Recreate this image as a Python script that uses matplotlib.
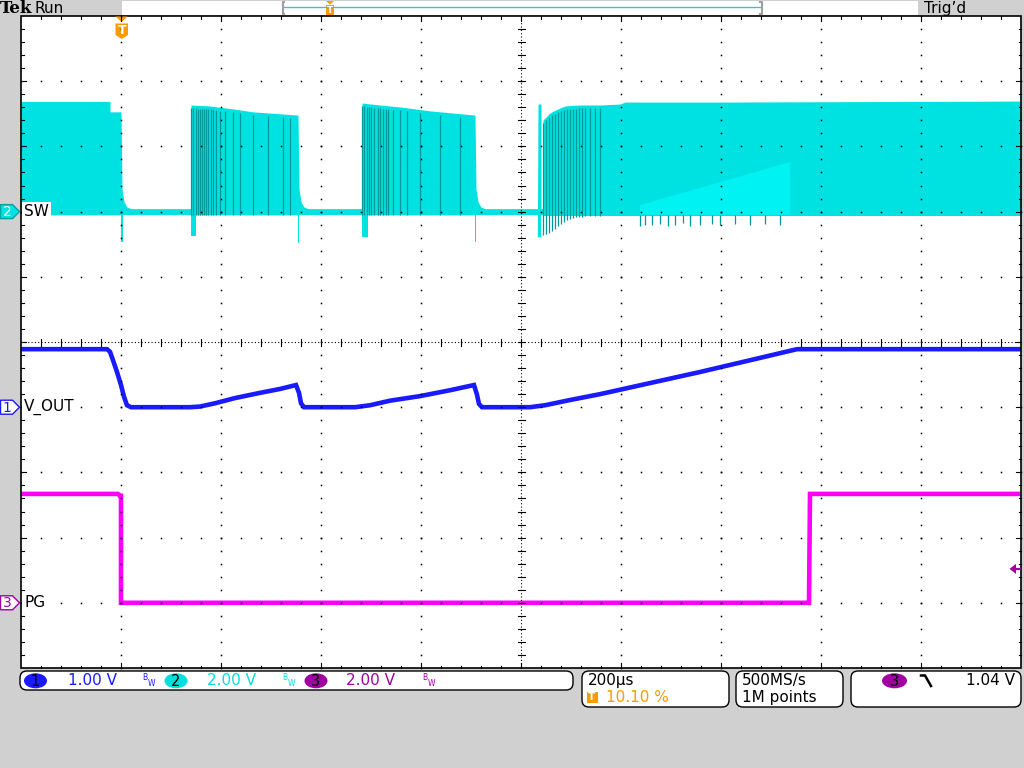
import numpy as np
import matplotlib
matplotlib.use("Agg")
import matplotlib.pyplot as plt
from matplotlib.patches import Polygon, Rectangle, FancyBboxPatch, Ellipse

# ---------------- data ----------------
time_per_div_label = "200µs"
trigger_pos_label = "10.10 %"
sample_rate_label = "500MS/s"
record_label = "1M points"
t_start_us, t_end_us = -200, 1800

ch1_vdiv, ch2_vdiv, ch3_vdiv = 1.0, 2.0, 2.0
ch1_off, ch2_off, ch3_off = -1.0, 2.0, -4.0
ch_labels = ["1.00 V", "2.00 V", "2.00 V"]
trigger_level_v = 1.04
trigger_level_label = "1.04 V"

# SW (ch2) envelope: time (µs), top (V), bottom (V)
sw_t = [-200, -22, -22, 0, 2, 6, 12, 20, 139, 140, 178, 224, 264, 354, 356, 360, 366, 374,
        481, 482, 518, 558, 618, 708, 710, 714, 720, 728, 833, 834, 840, 840, 843, 844,
        850, 856, 862, 870, 878, 888, 918, 958, 998, 1008, 1200, 1800]
sw_top = [3.38, 3.38, 3.06, 3.06, 0.70, 0.30, 0.14, 0.09, 0.09, 3.27, 3.24, 3.15, 3.06, 2.96,
          0.70, 0.30, 0.14, 0.09, 0.09, 3.33, 3.27, 3.21, 3.09, 2.96, 0.70, 0.30, 0.14, 0.09,
          0.09, 3.30, 3.30, 0.09, 0.09, 2.81, 2.90, 3.00, 3.06, 3.12, 3.18, 3.24, 3.27, 3.27,
          3.30, 3.36, 3.36, 3.39]
sw_bot = [-0.10, -0.10, -0.10, -0.10, -0.09, -0.09, -0.09, -0.09, -0.09, -0.10, -0.10, -0.10,
          -0.10, -0.10, -0.09, -0.09, -0.09, -0.09, -0.09, -0.10, -0.10, -0.10, -0.10, -0.10,
          -0.09, -0.09, -0.09, -0.09, -0.09, -0.10, -0.10, -0.09, -0.09, -0.12, -0.12, -0.12,
          -0.12, -0.12, -0.12, -0.12, -0.12, -0.12, -0.12, -0.12, -0.12, -0.12]
# negative ringing at switching edges: start, end (µs), minimum (V)
sw_spike_t0 = [0, 140, 354, 482, 708, 834]
sw_spike_t1 = [4, 150, 356, 494, 710, 840]
sw_spike_v = [-0.92, -0.75, -0.95, -0.78, -0.93, -0.78]
# individual darker pulses
sw_pulse_t = [140, 143, 149, 153, 158, 162, 166, 170, 174, 179, 184, 190, 198, 208, 224, 238,
              264, 294, 324, 338,
              482, 485, 491, 496, 500, 505, 513, 518, 523, 530, 534, 544, 558, 572, 598, 638, 678,
              844, 850, 856, 862, 868, 874, 880, 886, 892, 898, 904, 910, 916, 922, 928, 938, 948, 958]
sw_pulse_low = [-0.10] * 37 + [-0.72, -0.69, -0.66, -0.60, -0.53, -0.44, -0.38, -0.32, -0.26,
                               -0.23, -0.20, -0.18, -0.17, -0.16, -0.15, -0.14, -0.13, -0.13]
# undershoot spikes below the band during the soft-start region
sw_low_t = [1038, 1048, 1062, 1078, 1094, 1108, 1124, 1138, 1158, 1182, 1198, 1228, 1258, 1288, 1318]
sw_low_v = [-0.45, -0.40, -0.42, -0.38, -0.44, -0.41, -0.36, -0.43, -0.40, -0.38, -0.42, -0.39,
            -0.41, -0.37, -0.40]
# brighter overlap wedge
sw_wedge_t = [1038, 1338, 1338, 1038]
sw_wedge_v = [0.20, 1.52, -0.10, -0.10]

# V_OUT (ch1)
vout_t = [-200, -28, -22, -16, -8, 0, 6, 12, 20, 138, 158, 188, 228, 278, 318, 350, 356, 360,
          366, 468, 498, 538, 598, 658, 706, 712, 716, 722, 818, 848, 898, 958, 1058, 1158,
          1258, 1352, 1800]
vout_v = [0.89, 0.89, 0.85, 0.72, 0.54, 0.34, 0.16, 0.03, 0.0, 0.0, 0.01, 0.06, 0.14, 0.22,
          0.28, 0.34, 0.22, 0.06, 0.0, 0.0, 0.03, 0.10, 0.17, 0.26, 0.34, 0.19, 0.05, 0.0, 0.0,
          0.03, 0.11, 0.20, 0.37, 0.54, 0.72, 0.89, 0.89]

# PG (ch3)
pg_t = [-200, -6, -2, 0, 0, 1376, 1378, 1800]
pg_v = [3.34, 3.34, 3.28, 3.28, 0.0, 0.0, 3.34, 3.34]

# ---------------- style ----------------
BG = "#d0d0d0"
C1 = "#1a1aff"
C2 = "#00e2e2"
C2_TXT = "#00dede"
C2_DARK = "#009a9a"
C2_LIGHT = "#00f2f2"
C3 = "#ff00ff"
C3_TXT = "#a000a0"
ORANGE = "#ff9900"

GX0, GX1, GY0, GY1 = 21, 1021, 16, 668
DX = (GX1 - GX0) / 10
DY = (GY1 - GY0) / 10
CX, CY = GX0 + 5 * DX, GY0 + 5 * DY


def div_to_px(d):
    return CY - d * DY


fig = plt.figure(figsize=(10.24, 7.68), dpi=100, facecolor=BG)
ax = fig.add_axes([GX0 / 1024, (768 - GY1) / 768, (GX1 - GX0) / 1024, (GY1 - GY0) / 768])
ax.set_xlim(t_start_us, t_end_us)
ax.set_ylim(-5, 5)
ax.set_facecolor("white")
ax.set_xticks([])
ax.set_yticks([])
for s in ax.spines.values():
    s.set_visible(False)
ax.set_zorder(1)

# ---- SW trace ----
sw_t_a = np.array(sw_t, float)
top_d = ch2_off + np.array(sw_top) / ch2_vdiv
bot_d = ch2_off + np.array(sw_bot) / ch2_vdiv
ax.fill_between(sw_t_a, bot_d, top_d, color=C2, lw=0, zorder=2)
for t0, t1, v in zip(sw_spike_t0, sw_spike_t1, sw_spike_v):
    ax.fill_between([t0, t1], [ch2_off + v / ch2_vdiv] * 2, [ch2_off] * 2, color=C2, lw=0, zorder=2)
ax.fill(sw_wedge_t, ch2_off + np.array(sw_wedge_v) / ch2_vdiv, color=C2_LIGHT, lw=0, zorder=2.2)
ptop = ch2_off + np.interp(sw_pulse_t, sw_t_a, np.array(sw_top)) / ch2_vdiv
plow = ch2_off + np.array(sw_pulse_low) / ch2_vdiv
ax.vlines(sw_pulse_t, plow, ptop - 0.05, colors=C2_DARK, lw=0.9, zorder=2.5)
ax.vlines(sw_low_t, ch2_off - 0.05, ch2_off + np.array(sw_low_v) / ch2_vdiv, colors=C2_DARK,
          lw=0.9, zorder=2.5)

# ---- V_OUT ----
ax.plot(vout_t, ch1_off + np.array(vout_v) / ch1_vdiv, color=C1, lw=3.3, zorder=3,
        solid_joinstyle="miter")
# ---- PG ----
ax.plot(pg_t, ch3_off + np.array(pg_v) / ch3_vdiv, color=C3, lw=3.3, zorder=3,
        solid_joinstyle="miter")

# ---------------- overlay (pixel coordinates) ----------------
ov = fig.add_axes([0, 0, 1, 1])
ov.set_xlim(0, 1024)
ov.set_ylim(768, 0)
ov.axis("off")
ov.patch.set_alpha(0)
ov.set_zorder(2)

# graticule frame
ov.add_patch(Rectangle((GX0, GY0), GX1 - GX0, GY1 - GY0, fill=False, ec="black", lw=1.2))
# grid dots
xs, ys = [], []
for i in range(1, 10):
    if i == 5:
        continue
    x = GX0 + i * DX
    for k in range(0, 51):
        xs.append(x)
        ys.append(GY0 + k * DY / 5)
for j in range(1, 10):
    if j == 5:
        continue
    y = GY0 + j * DY
    for k in range(0, 51):
        xs.append(GX0 + k * DX / 5)
        ys.append(y)
ov.plot(xs, ys, "s", ms=1.1, color="black", mew=0)
# center crosshair
ov.plot([CX, CX], [GY0, GY1], color="black", lw=0.8, ls=(0, (1, 2)))
ov.plot([GX0, GX1], [CY, CY], color="black", lw=0.8, ls=(0, (1, 2)))
for k in range(1, 50):
    y = GY0 + k * DY / 5
    ov.plot([CX - 3.5, CX + 3.5], [y, y], color="black", lw=0.8)
    x = GX0 + k * DX / 5
    ov.plot([x, x], [CY - 3.5, CY + 3.5], color="black", lw=0.8)
# edge ticks
for k in range(1, 50):
    x = GX0 + k * DX / 5
    L = 5 if k % 5 == 0 else 2.5
    ov.plot([x, x], [GY0, GY0 + L], color="black", lw=0.8)
    ov.plot([x, x], [GY1 - L, GY1], color="black", lw=0.8)
    y = GY0 + k * DY / 5
    ov.plot([GX0, GX0 + L], [y, y], color="black", lw=0.8)
    ov.plot([GX1 - L, GX1], [y, y], color="black", lw=0.8)

# ---- top bar ----
ov.text(0, 8.5, "Tek", fontfamily="DejaVu Serif", fontweight="bold", fontsize=12,
        ha="left", va="center", color="black")
ov.text(35, 8.5, "Run", fontsize=11, ha="left", va="center", color="black")
ov.add_patch(Rectangle((122, 1), 796, 14, fc="white", ec="none"))
ov.plot([284, 761], [7, 7], color="#20d0d0", lw=1.0)
ov.plot([284, 282.5, 282.5, 284], [2, 2, 14, 14], color="#a0a0a0", lw=1.5)
ov.plot([760, 761.5, 761.5, 760], [2, 2, 14, 14], color="#a0a0a0", lw=1.5)
ov.add_patch(Polygon([(326, 1), (334, 1), (330, 4.5)], closed=True, fc=ORANGE, ec="none"))
ov.add_patch(Rectangle((326, 5), 8, 10, fc=ORANGE, ec="none"))
ov.text(330, 10.2, "T", fontsize=6.5, fontweight="bold", color="white", ha="center", va="center")
ov.text(924, 8.5, "Trig\u2019d", fontsize=11, ha="left", va="center", color="black")

# trigger position marker
ov.add_patch(Polygon([(115.5, 16.5), (127.5, 16.5), (121.5, 22)], closed=True, fc=ORANGE, ec="none"))
ov.add_patch(Polygon([(115.5, 23.5), (128, 23.5), (128, 35), (121.7, 39), (115.5, 35)],
                     closed=True, fc=ORANGE, ec="none"))
ov.text(121.8, 30.5, "T", fontsize=9, fontweight="bold", color="white", ha="center", va="center")

# ---- channel markers & labels ----
def ch_marker(y, num, fc, ec, tc):
    ov.add_patch(Polygon([(0.5, y - 7), (12.5, y - 7), (19.5, y), (12.5, y + 7), (0.5, y + 7)],
                         closed=True, fc=fc, ec=ec, lw=1.0))
    ov.text(7, y + 0.5, num, fontsize=10, color=tc, ha="center", va="center")

ch_marker(div_to_px(ch2_off), "2", C2, "#00a0a0", "white")
ch_marker(div_to_px(ch1_off), "1", "white", C1, C1)
ch_marker(div_to_px(ch3_off), "3", "white", C3_TXT, C3_TXT)
for y, lab in [(div_to_px(ch2_off), "SW"), (div_to_px(ch1_off), "V_OUT"), (div_to_px(ch3_off), "PG")]:
    ov.text(24, y, lab, fontsize=11, color="black", ha="left", va="center",
            bbox=dict(fc="white", ec="none", pad=1.2))

# trigger level arrow (right edge)
ty = div_to_px(ch3_off + trigger_level_v / ch3_vdiv)
ov.add_patch(Polygon([(1009.5, ty), (1016, ty - 5), (1016, ty + 5)], closed=True, fc=C3_TXT, ec="none"))
ov.plot([1015, 1020], [ty, ty], color=C3_TXT, lw=1.6)

# ---- bottom status boxes ----
def rbox(x, y, w, h):
    ov.add_patch(FancyBboxPatch((x, y), w, h, boxstyle="round,pad=0,rounding_size=7",
                                fc="white", ec="black", lw=1.0))

rbox(20, 671, 553, 19)
rbox(582, 671, 147, 36)
rbox(736, 671, 107, 36)
rbox(851, 671, 170, 36)

ycs = 680.8
for cx, num, fc, vx, lab, tc, bwx in [(35.5, "1", C1, 68, ch_labels[0], C1, 142),
                                      (176, "2", C2_TXT, 207, ch_labels[1], C2_TXT, 282),
                                      (316, "3", C3_TXT, 346, ch_labels[2], C3_TXT, 422)]:
    ov.add_patch(Ellipse((cx, ycs), 23, 15, fc=fc, ec="none"))
    ov.text(cx, ycs + 0.5, num, fontsize=10.5, color="black", ha="center", va="center")
    ov.text(vx, ycs, lab, fontsize=11, color=tc, ha="left", va="center")
    ov.text(bwx, ycs - 3, "B", fontsize=5.5, color=tc, ha="left", va="center")
    ov.text(bwx + 5.5, ycs + 2.5, "W", fontsize=5.5, color=tc, ha="left", va="center")

ov.text(588, 681, time_per_div_label, fontsize=11, color="black", ha="left", va="center")
ov.add_patch(Rectangle((586.5, 691.5), 11, 11.5, fc=ORANGE, ec="none"))
ov.text(592, 697.5, "T", fontsize=7.5, fontweight="bold", color="white", ha="center", va="center")
ov.text(606, 697.5, trigger_pos_label, fontsize=11, color=ORANGE, ha="left", va="center")
ov.text(742, 681, sample_rate_label, fontsize=11, color="black", ha="left", va="center")
ov.text(742, 697.5, record_label, fontsize=11, color="black", ha="left", va="center")
ov.add_patch(Ellipse((894.5, ycs), 25, 15, fc=C3_TXT, ec="none"))
ov.text(894.5, ycs + 0.5, "3", fontsize=10.5, color="black", ha="center", va="center")
ov.plot([921, 925, 931], [675.5, 675.5, 686], color="black", lw=1.8, solid_joinstyle="miter")
ov.text(1015, ycs, trigger_level_label, fontsize=11, color="black", ha="right", va="center")

fig.savefig("out.png", dpi=100, facecolor=BG)
